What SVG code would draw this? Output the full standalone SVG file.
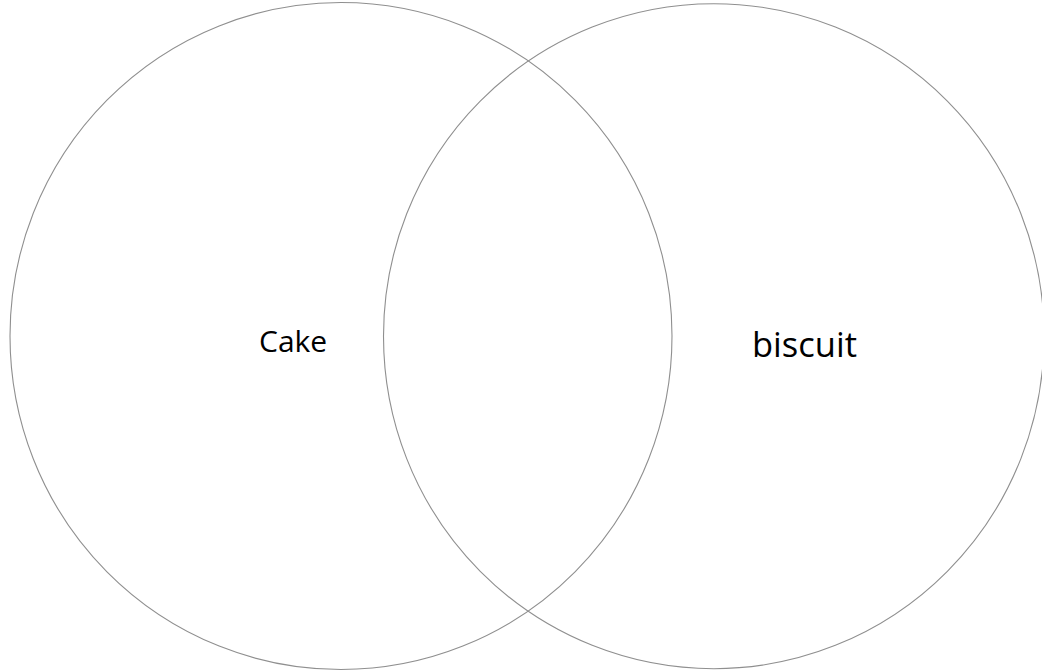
<svg xmlns="http://www.w3.org/2000/svg" width="1042" height="671" viewBox="0 0 1042 671">
<style>
.c{fill:none;stroke:#8f8f8f;stroke-width:1.1}
.t{font-family:"Open Sans","Liberation Sans",sans-serif;fill:#000}
</style>
<rect width="1042" height="671" fill="#fff"/>
<g id="cake">
<ellipse class="c" cx="341" cy="336" rx="331" ry="333.5"/>
<text class="t" x="259" y="352" font-size="30">Cake</text>
</g>
<g id="biscuit">
<ellipse class="c" cx="713.8" cy="336.2" rx="330.3" ry="332.5"/>
<text class="t" x="752" y="357" font-size="34.5">biscuit</text>
</g>
<g id="connectors"/>
</svg>
